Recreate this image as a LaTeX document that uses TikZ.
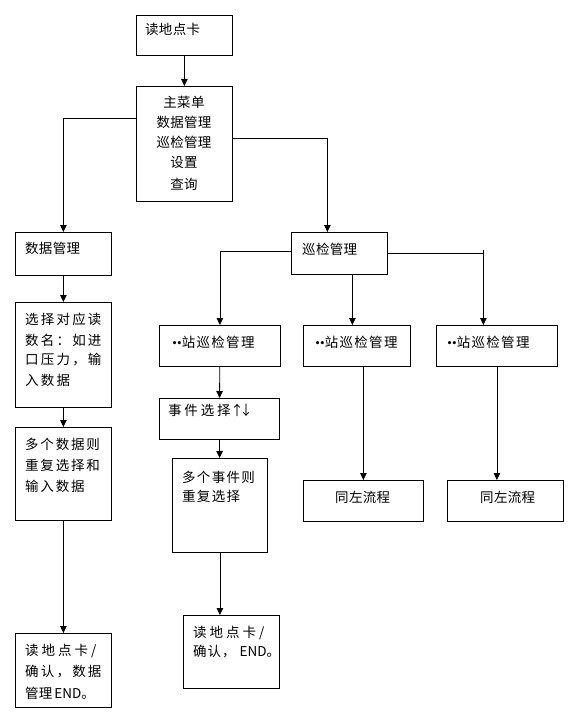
\documentclass[tikz,border=0pt]{standalone}
\usepackage{fontspec}
\setmainfont{Noto Sans CJK SC}
\usetikzlibrary{arrows.meta}
\newdimen\lspgap
\def\lsp#1#2{\lspgap=#1\relax\lspfirst#2\relax}
\def\lspfirst#1{#1\lspaux}
\def\lspaux#1{\ifx#1\relax\else\kern\lspgap#1\expandafter\lspaux\fi}
\newcommand\tinydot{\makebox[4.8pt][c]{\raisebox{3pt}{\fontsize{3.6}{3.6}\selectfont ●}}}
\begin{document}
\begin{tikzpicture}[x=1pt,y=-1pt,
  box/.style={draw, line width=0.8pt, inner sep=0pt, anchor=north west},
  tx/.style={inner sep=0pt, anchor=west, font=\fontsize{13.5}{13.5}\selectfont},
  tc/.style={inner sep=0pt, anchor=center, font=\fontsize{13.5}{13.5}\selectfont},
  arr/.style={line width=0.8pt, -{Triangle[width=6.5pt,length=7pt]}}]
\useasboundingbox (0,0) rectangle (578,727);
% boxes
\node[box, minimum width=96, minimum height=40] (top) at (136,15) {};
\node[box, minimum width=96, minimum height=115] (main) at (136,86) {};
\node[box, minimum width=96, minimum height=43] (dm) at (15,232) {};
\node[box, minimum width=96, minimum height=105] (sel) at (15,302) {};
\node[box, minimum width=96, minimum height=93] (mul) at (15,427) {};
\node[box, minimum width=96, minimum height=74] (end1) at (15,633) {};
\node[box, minimum width=96, minimum height=42] (xj) at (291,232) {};
\node[box, minimum width=121, minimum height=41] (s1) at (159,325) {};
\node[box, minimum width=107, minimum height=41] (s2) at (303,325) {};
\node[box, minimum width=121, minimum height=41] (s3) at (436,325) {};
\node[box, minimum width=120, minimum height=41] (ev) at (159,398) {};
\node[box, minimum width=95, minimum height=94] (me) at (172,458) {};
\node[box, minimum width=96, minimum height=73] (end2) at (183,615) {};
\node[box, minimum width=120, minimum height=41] (tz1) at (303,480) {};
\node[box, minimum width=116, minimum height=41] (tz2) at (447,480) {};
% texts
\node[tx] (ttop) at (145,29) {\lsp{0.3pt}{读地点卡}};
\node[tc] (tm1) at (184,102) {\lsp{0.3pt}{主菜单}};
\node[tc] (tm2) at (184,122) {\lsp{0.3pt}{数据管理}};
\node[tc] (tm3) at (184,142) {\lsp{0.3pt}{巡检管理}};
\node[tc] (tm4) at (184,163) {\lsp{0.3pt}{设置}};
\node[tc] (tm5) at (184,184) {\lsp{0.3pt}{查询}};
\node[tx] (tdm) at (25,248) {\lsp{0.3pt}{数据管理}};
\node[tx] (ts1) at (25,319) {\lsp{2.2pt}{选择对应读}};
\node[tx] (ts2) at (25,340) {\lsp{2.2pt}{数名：如进}};
\node[tx] (ts3) at (25,360) {\lsp{2.2pt}{口压力，输}};
\node[tx] (ts4) at (25,380) {\lsp{2.2pt}{入数据}};
\node[tx] (tu1) at (25,444) {\lsp{1.8pt}{多个数据则}};
\node[tx] (tu2) at (25,465) {\lsp{1.8pt}{重复选择和}};
\node[tx] (tu3) at (25,486) {\lsp{1.8pt}{输入数据}};
\node[tx] (te1) at (25,651) {\lsp{3pt}{读地点卡/}};
\node[tx] (te2) at (25,672) {\lsp{2.2pt}{确认，数据}};
\node[tx] (te3) at (25,693) {\lsp{0.3pt}{管理}\hspace{2pt}END。};
\node[tx] (txj) at (302,249) {\lsp{0.3pt}{巡检管理}};
\node[tx] (tsa) at (172,342) {\tinydot\tinydot\lsp{1.3pt}{站巡检管理}};
\node[tx] (tsb) at (315,342) {\tinydot\tinydot\lsp{1.3pt}{站巡检管理}};
\node[tx] (tsc) at (447,342) {\tinydot\tinydot\lsp{1.3pt}{站巡检管理}};
\node[tx] (tev) at (168,410) {\lsp{2.8pt}{事件选择}\kern2pt\makebox[9pt][c]{↑}\makebox[9pt][c]{↓}};
\node[tx] (tme1) at (182,477) {\lsp{1.3pt}{多个事件则}};
\node[tx] (tme2) at (182,496) {\lsp{1.3pt}{重复选择}};
\node[tx] (tf1) at (193,633) {\lsp{3pt}{读地点卡/}};
\node[tx] (tf2) at (193,652) {\lsp{1pt}{确认，}\hspace{4pt}END。};
\node[tx] (tz1t) at (335,497) {\lsp{0.3pt}{同左流程}};
\node[tx] (tz2t) at (480,497) {\lsp{0.3pt}{同左流程}};
% connectors
\draw[arr] (top) -- (main);
\draw[arr] ([yshift=25.5pt]main.west) -| (dm.north);
\draw[arr] ([yshift=5.5pt]main.east) -| ([xshift=-12pt]xj.north);
\draw[arr] (dm) -- (sel);
\draw[arr] (sel) -- (mul);
\draw[arr] (mul) -- (end1);
\draw[arr] ([yshift=2pt]xj.west) -| (s1.north);
\draw[arr] ([xshift=13pt]xj.south) -- ([xshift=13pt]xj.south |- s2.north);
\draw[arr] (xj.east) -| ([xshift=-13.5pt]s3.north);
\coordinate (tick) at ([xshift=-13.5pt]s3.north |- xj.east);
\draw[line width=0.8pt] (tick) -- ++(0,-3);
\draw[arr] (s1) -- (ev);
\draw[arr] (ev) -- (me);
\draw[arr] (me.south) -- (me.south |- end2.north);
\draw[arr] (tz1.north |- s2.south) -- (tz1.north);
\draw[arr] (s3.south) -- (s3.south |- tz2.north);
\end{tikzpicture}
\end{document}
